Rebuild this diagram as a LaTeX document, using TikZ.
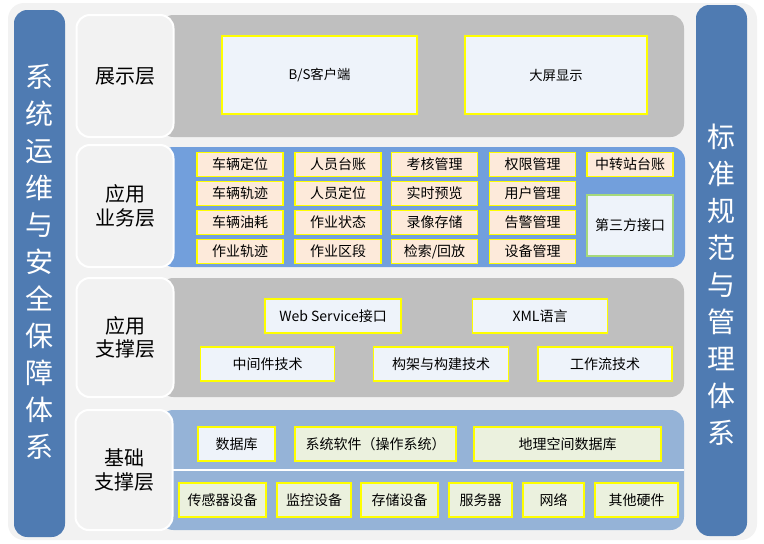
\documentclass[tikz,border=0pt]{standalone}
\usepackage{fontspec}
\setmainfont{Noto Sans CJK SC}
\usetikzlibrary{positioning}
\definecolor{cbar}{HTML}{4F7BB2}
\definecolor{cbg}{HTML}{F2F2F2}
\definecolor{cgray}{HTML}{BFBFBF}
\definecolor{cbus}{HTML}{729FDC}
\definecolor{cfnd}{HTML}{95B3D7}
\definecolor{cyel}{HTML}{FFFF00}
\definecolor{cgrn}{HTML}{A6D97A}
\definecolor{cpale}{HTML}{EEF3FA}
\definecolor{cpeach}{HTML}{FDEADA}
\definecolor{clime}{HTML}{EBF1DE}
\tikzset{
  cell/.style={draw=cyel, line width=1.2pt, inner sep=0pt, font=\fontsize{10.5}{12}\selectfont},
  wh/.style 2 args={minimum width=#1*0.75pt, minimum height=#2*0.75pt},
  layerlbl/.style={draw=white, line width=1.5pt, fill=cbg, rounded corners=10pt, align=center,
    inner sep=0pt, font=\fontsize{15}{17.5}\selectfont},
  bartext/.style={align=center, text=white, font=\fontsize{21}{27.75}\selectfont},
}
\begin{document}
\begin{tikzpicture}[x=0.75pt, y=-0.75pt]
    \useasboundingbox (0,0) rectangle (764,543);
    % background and side bars
    \fill[cbg, rounded corners=12pt] (8,3) rectangle (757,540);
    \fill[cbar, rounded corners=10pt] (14,10) rectangle (65,537);
    \fill[cbar, rounded corners=10pt] (696,5) rectangle (747,536);
    \node (opsys) [bartext] at (40,262) {系\\统\\运\\维\\与\\安\\全\\保\\障\\体\\系};
    \node (stdsys) [bartext] at (721,285) {标\\准\\规\\范\\与\\管\\理\\体\\系};
    % layer panels
    \fill[cgray, rounded corners=10pt] (160,15) rectangle (684,137);
    \fill[cbus, rounded corners=10pt] (160,147) rectangle (685,267);
    \fill[cgray, rounded corners=10pt] (160,278) rectangle (684,397);
    \fill[cfnd, rounded corners=10pt] (160,410) rectangle (684,530);
    \draw[white, line width=2pt] (160,470) -- (684,470);
    % layer names
    \node (lpres) [layerlbl, wh={97}{122}] at (125,76) {展示层};
    \node (lbus) [layerlbl, wh={97}{122}] at (125,206) {应用\\业务层};
    \node (lsup) [layerlbl, wh={97}{119}] at (125,337.5) {应用\\支撑层};
    \node (lfnd) [layerlbl, wh={97}{120}] at (124,470) {基础\\支撑层};
    % presentation
    \node (bs) [cell, fill=cpale, wh={195}{78}, font=\fontsize{10}{12}\selectfont] at (319.5,75) {B/S客户端};
    \node (scr) [cell, fill=cpale, wh={182}{78}, font=\fontsize{10}{12}\selectfont] at (556,75) {大屏显示};
    % business
    \foreach \t [count=\i] in {车辆定位,车辆轨迹,车辆油耗,作业轨迹}
        \node (ba\i) [cell, fill=cpeach, wh={86}{24}] at (240,{135.5+29*\i}) {\t};
    \foreach \t [count=\i] in {人员台账,人员定位,作业状态,作业区段}
        \node (bb\i) [cell, fill=cpeach, wh={86}{24}] at (338,{135.5+29*\i}) {\t};
    \foreach \t [count=\i] in {考核管理,实时预览,录像存储,检索/回放}
        \node (bc\i) [cell, fill=cpeach, wh={86}{24}] at (434.5,{135.5+29*\i}) {\t};
    \foreach \t [count=\i] in {权限管理,用户管理,告警管理,设备管理}
        \node (bd\i) [cell, fill=cpeach, wh={86}{24}] at (532.5,{135.5+29*\i}) {\t};
    \node (be1) [cell, fill=cpeach, wh={86}{24}] at (630,164.5) {中转站台账};
    \node (be2) [cell, draw=cgrn, fill=cpale, wh={86}{61}] at (630,225.5) {第三方接口};
    % support
    \node (ws) [cell, fill=cpale, wh={136}{34}] at (333,316) {Web Service接口};
    \node (xml) [cell, fill=cpale, wh={135}{34}] at (540,316) {XML语言};
    \node (mid) [cell, fill=cpale, wh={134}{34}] at (267.5,364) {中间件技术};
    \node (frm) [cell, fill=cpale, wh={135}{34}] at (441,364) {构架与构建技术};
    \node (wf) [cell, fill=cpale, wh={134}{34}] at (605,364) {工作流技术};
    % foundation
    \node (db) [cell, fill=cpale, wh={77}{34}] at (236.5,444) {数据库};
    \node (os) [cell, fill=clime, wh={161}{34}] at (375.5,444) {系统软件（操作系统）};
    \node (gdb) [cell, fill=clime, wh={187}{34}] at (567.5,444) {地理空间数据库};
    \node (hw1) [cell, fill=clime, wh={87}{34}] at (222.5,500) {传感器设备};
    \node (hw2) [cell, fill=clime, wh={74}{34}] at (314,500) {监控设备};
    \node (hw3) [cell, fill=clime, wh={77}{34}] at (399.5,500) {存储设备};
    \node (hw4) [cell, fill=clime, wh={63}{34}] at (480.5,500) {服务器};
    \node (hw5) [cell, fill=clime, wh={61}{34}] at (553.5,500) {网络};
    \node (hw6) [cell, fill=clime, wh={83}{34}] at (636.5,500) {其他硬件};
\end{tikzpicture}
\end{document}
